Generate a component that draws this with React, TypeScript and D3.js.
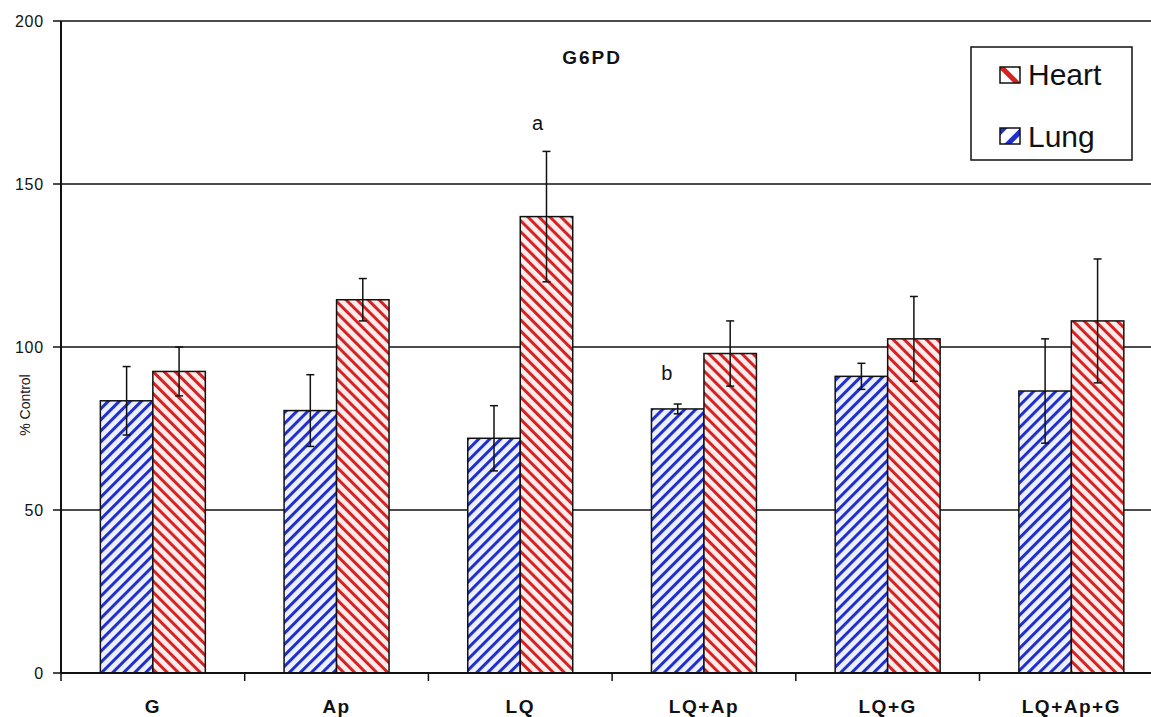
import React from "react";
import * as d3 from "d3";

const categories = ["G", "Ap", "LQ", "LQ+Ap", "LQ+G", "LQ+Ap+G"];
const seriesNames = ["Lung", "Heart"];
const lungValues = [83.5, 80.5, 72, 81, 91, 86.5];
const lungErrors = [10.5, 11, 10, 1.5, 4, 16];
const heartValues = [92.5, 114.5, 140, 98, 102.5, 108];
const heartErrors = [7.5, 6.5, 20, 10, 13, 19];
const yTicks = [0, 50, 100, 150, 200];
const annotations = [
  { category: "LQ", series: "Heart", label: "a", value: 166.6 },
  { category: "LQ+Ap", series: "Lung", label: "b", value: 89.9 },
];
const title = "G6PD";
const yLabel = "% Control";

const W = 1151;
const H = 717;
const left = 61;
const catStep = 183.7;

export default function App() {
  const x = d3
    .scaleBand<string>()
    .domain(categories)
    .range([left, left + catStep * categories.length])
    .padding(0);
  const xs = d3
    .scaleBand<string>()
    .domain(seriesNames)
    .range([0, x.bandwidth()])
    .paddingInner(0)
    .paddingOuter(0.75);
  const y = d3.scaleLinear().domain([0, 200]).range([673, 21]);

  const series = [
    { name: "Lung", values: lungValues, errors: lungErrors, fill: "url(#lungPat)" },
    { name: "Heart", values: heartValues, errors: heartErrors, fill: "url(#heartPat)" },
  ];
  const font = "'Liberation Sans', Arial, sans-serif";
  const right = W;

  return (
    <svg
      width={W}
      height={H}
      style={{ position: "absolute", left: 0, top: 0, background: "#fff" }}
    >
      <defs>
        <pattern id="lungPat" patternUnits="userSpaceOnUse" width={7.8} height={7.8} patternTransform="rotate(45)">
          <rect width={7.8} height={7.8} fill="#eef1fd" />
          <rect width={3} height={7.8} fill="#1f2fcc" />
        </pattern>
        <pattern id="heartPat" patternUnits="userSpaceOnUse" width={7.8} height={7.8} patternTransform="rotate(-45)">
          <rect width={7.8} height={7.8} fill="#fdecec" />
          <rect width={3} height={7.8} fill="#d42222" />
        </pattern>
        <pattern id="lungLeg" patternUnits="userSpaceOnUse" width={14} height={14} patternTransform="rotate(45)">
          <rect width={14} height={14} fill="#fff" />
          <rect width={5} height={14} fill="#1f2fcc" />
        </pattern>
        <pattern id="heartLeg" patternUnits="userSpaceOnUse" width={14} height={14} patternTransform="rotate(-45)">
          <rect width={14} height={14} fill="#fff" />
          <rect width={5} height={14} fill="#d42222" />
        </pattern>
      </defs>

      {/* gridlines */}
      {yTicks.filter((t) => t > 0).map((t) => (
        <line key={t} x1={left} x2={right} y1={y(t)} y2={y(t)} stroke="#111" strokeWidth={1.6} />
      ))}

      {/* bars */}
      {series.map((s) =>
        categories.map((c, i) => (
          <rect
            key={s.name + c}
            x={(x(c) as number) + (xs(s.name) as number)}
            y={y(s.values[i])}
            width={xs.bandwidth()}
            height={y(0) - y(s.values[i])}
            fill={s.fill}
            stroke="#111"
            strokeWidth={1.5}
          />
        ))
      )}

      {/* error bars */}
      {series.map((s) =>
        categories.map((c, i) => {
          const cx = (x(c) as number) + (xs(s.name) as number) + xs.bandwidth() / 2;
          const y1 = y(s.values[i] + s.errors[i]);
          const y2 = y(s.values[i] - s.errors[i]);
          return (
            <g key={"e" + s.name + c} stroke="#111" strokeWidth={1.5}>
              <line x1={cx} x2={cx} y1={y1} y2={y2} />
              <line x1={cx - 4} x2={cx + 4} y1={y1} y2={y1} />
              <line x1={cx - 4} x2={cx + 4} y1={y2} y2={y2} />
            </g>
          );
        })
      )}

      {/* axes */}
      <line x1={left} x2={left} y1={y(200)} y2={y(0)} stroke="#111" strokeWidth={2} />
      <line x1={left} x2={right} y1={y(0)} y2={y(0)} stroke="#111" strokeWidth={2} />
      {yTicks.map((t) => (
        <g key={"yt" + t}>
          <line x1={53} x2={left} y1={y(t)} y2={y(t)} stroke="#111" strokeWidth={1.5} />
          <text x={44} y={y(t)} dy="0.36em" textAnchor="end" fontFamily={font} fontSize={16} letterSpacing={0.8} fill="#111">
            {t}
          </text>
        </g>
      ))}
      {categories.map((c) => (
        <line
          key={"xt" + c}
          x1={(x(c) as number)}
          x2={(x(c) as number)}
          y1={y(0)}
          y2={y(0) + 8}
          stroke="#111"
          strokeWidth={1.5}
        />
      ))}
      {categories.map((c) => (
        <text
          key={"xl" + c}
          x={(x(c) as number) + x.bandwidth() / 2}
          y={713}
          textAnchor="middle"
          fontFamily={font}
          fontWeight="bold"
          fontSize={19}
          letterSpacing={1.5}
          fill="#111"
        >
          {c}
        </text>
      ))}

      {/* y label */}
      <text
        transform={`translate(25, 405) rotate(-90)`}
        textAnchor="middle"
        fontFamily={font}
        fontSize={14}
        dy="0.35em"
        fill="#111"
      >
        {yLabel}
      </text>

      {/* title */}
      <text x={592} y={64} textAnchor="middle" fontFamily={font} fontWeight="bold" fontSize={19} letterSpacing={2} fill="#111">
        {title}
      </text>

      {/* annotations */}
      {annotations.map((a) => (
        <text
          key={a.label}
          x={(x(a.category) as number) + (xs(a.series) as number) + xs.bandwidth() / 2 + (a.series === "Heart" ? -9 : -11)}
          y={y(a.value)}
          textAnchor="middle"
          fontFamily={font}
          fontSize={20}
          fill="#111"
        >
          {a.label}
        </text>
      ))}

      {/* legend */}
      <g>
        <rect x={971} y={47} width={161} height={113} fill="#fff" stroke="#111" strokeWidth={1.5} />
        <rect x={1000} y={67} width={20} height={16} fill="url(#heartLeg)" stroke="#111" strokeWidth={1.5} />
        <text x={1028} y={85} fontFamily={font} fontSize={30} fill="#111">Heart</text>
        <rect x={1000} y={128} width={20} height={16} fill="url(#lungLeg)" stroke="#111" strokeWidth={1.5} />
        <text x={1028} y={147} fontFamily={font} fontSize={30} fill="#111">Lung</text>
      </g>
    </svg>
  );
}
